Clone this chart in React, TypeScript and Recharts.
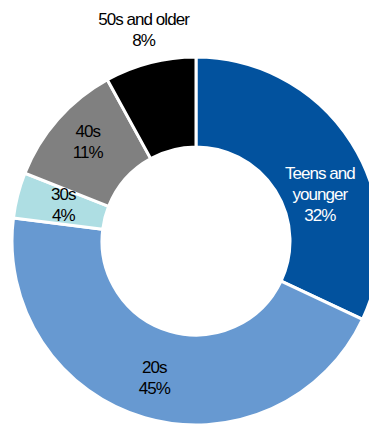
import React from "react";
import { PieChart, Pie, Cell } from "recharts";

const categories = ["Teens and younger", "20s", "30s", "40s", "50s and older"];
const shares = [32, 45, 4, 11, 8];
const labelLines = [["Teens and", "younger"], ["20s"], ["30s"], ["40s"], ["50s and older"]];
const colors = ["#02529E", "#6799D1", "#AEDEE3", "#808080", "#000000"];
const textColors = ["#FFFFFF", "#000000", "#000000", "#000000", "#000000"];

const data = categories.map((name, i) => ({ name, value: shares[i], idx: i }));

// label placement tweaks (radius and nudge), styling only
const labelRadius = [null, null, null, null, 35];
const nudges: [number, number][] = [[6.5, 27.5], [-3, 3.5], [2, -1.5], [-4, -7.5], [2, 1]];

const RAD = Math.PI / 180;

const renderLabel = (props: any) => {
  const { cx, cy, midAngle, innerRadius, outerRadius, index } = props;
  const extra = labelRadius[index];
  const r = extra != null ? outerRadius + extra : (innerRadius + outerRadius) / 2;
  const x = cx + r * Math.cos(-midAngle * RAD) + nudges[index][0];
  const y = cy + r * Math.sin(-midAngle * RAD) + nudges[index][1];
  const lines = [...labelLines[index], `${shares[index]}%`];
  const lh = 21;
  const first = y - ((lines.length - 1) * lh) / 2 + 6;
  return (
    <text
      key={`lbl-${index}`}
      x={x}
      y={first}
      textAnchor="middle"
      fill={textColors[index]}
      fontFamily="'Liberation Sans', Arial, sans-serif"
      fontSize={17}
      style={{ letterSpacing: "-0.95px" }}
    >
      {lines.map((l, i) => (
        <tspan key={i} x={x} y={first + i * lh}>
          {l}
        </tspan>
      ))}
    </text>
  );
};

export default function App() {
  return (
    <div style={{ position: "absolute", left: 0, top: 0, width: 369, height: 426, background: "#fff" }}>
      <PieChart width={369} height={426} margin={{ top: 0, right: 0, bottom: 0, left: 0 }}>
        <Pie
          data={data}
          dataKey="value"
          nameKey="name"
          cx={196}
          cy={241}
          innerRadius={94}
          outerRadius={184}
          startAngle={90}
          endAngle={-270}
          stroke="#FFFFFF"
          strokeWidth={3}
          label={renderLabel}
          labelLine={false}
          isAnimationActive={false}
        >
          {data.map((d, i) => (
            <Cell key={d.name} fill={colors[i]} />
          ))}
        </Pie>
      </PieChart>
    </div>
  );
}
